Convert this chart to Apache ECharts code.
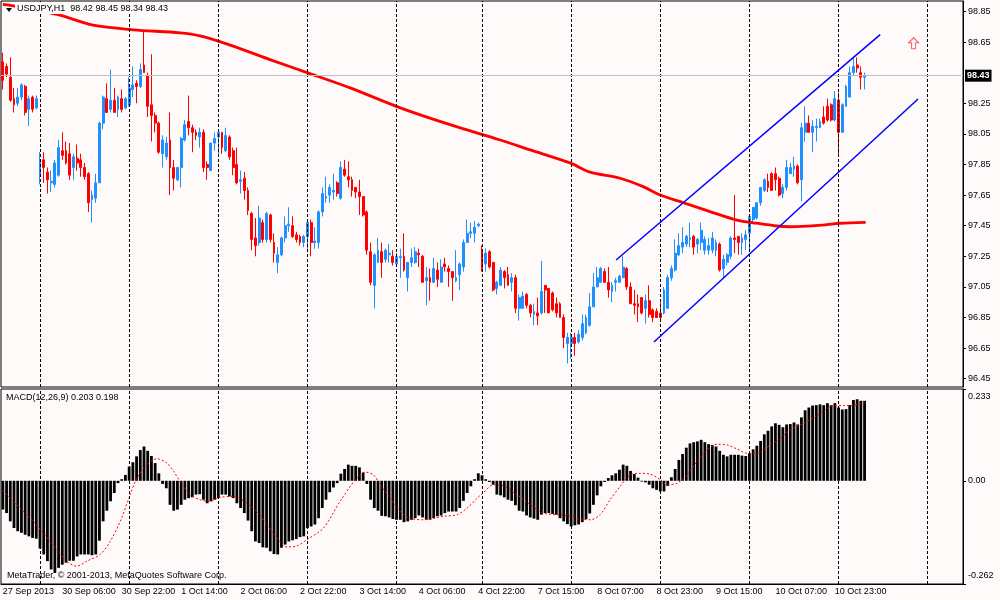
<!DOCTYPE html>
<html>
<head>
<meta charset="utf-8">
<title>USDJPY,H1</title>
<script src="https://cdn.jsdelivr.net/npm/echarts@6/dist/echarts.min.js"></script>
<style>
  html, body { margin: 0; padding: 0; background: #fffafa; }
  #chart { width: 1000px; height: 600px; }
</style>
</head>
<body>
<div id="chart"></div>
<script>
// USDJPY H1, 27 Sep 2013 14:00 .. 11 Oct 2013 07:00 (233 bars)
const symbol = 'USDJPY,H1'
const timeLabels = ['27 Sep 2013', '30 Sep 06:00', '30 Sep 22:00', '1 Oct 14:00', '2 Oct 06:00',
  '2 Oct 22:00', '3 Oct 14:00', '4 Oct 06:00', '4 Oct 22:00', '7 Oct 15:00', '8 Oct 07:00',
  '8 Oct 23:00', '9 Oct 15:00', '10 Oct 07:00', '10 Oct 23:00']
// bar index of each midnight (day separators)
const daySeparators = [10, 34, 58, 82, 106, 129, 153, 177, 201, 225, 249]
const priceTicks = [96.45, 96.65, 96.85, 97.05, 97.25, 97.45, 97.65, 97.85, 98.05, 98.25, 98.65, 98.85]
const macdTicks = [-0.262, 0, 0.233]
const bid = 98.43

// [open, close, low, high]
const ohlc = [
  // Fri 27 Sep 14:00 - 23:00
  [98.52,98.40,98.34,98.58],[98.49,98.44,98.42,98.51],[98.42,98.27,98.26,98.55],[98.28,98.24,98.19,98.35],
  [98.25,98.29,98.23,98.35],[98.29,98.37,98.27,98.38],[98.36,98.19,98.17,98.37],[98.21,98.28,98.10,98.30],
  [98.29,98.21,98.19,98.30],[98.22,98.28,98.21,98.30],
  // Mon 30 Sep
  [97.78,97.87,97.72,97.93],[97.88,97.83,97.73,97.93],[97.80,97.75,97.66,97.83],[97.73,97.74,97.67,97.81],
  [97.72,97.86,97.70,97.88],[97.78,97.96,97.77,98.01],[97.94,97.91,97.88,98.06],[97.94,97.86,97.85,98.00],
  [97.92,97.78,97.75,97.99],[97.83,97.90,97.75,97.92],[97.89,97.86,97.81,97.98],[97.88,97.83,97.77,97.92],
  [97.83,97.77,97.75,97.86],[97.79,97.60,97.54,97.80],[97.62,97.65,97.47,97.68],[97.63,97.73,97.60,97.79],
  [97.73,98.12,97.73,98.13],[98.12,98.29,98.08,98.30],[98.28,98.19,98.19,98.38],[98.21,98.27,98.19,98.47],
  [98.27,98.19,98.19,98.35],[98.21,98.29,98.16,98.30],[98.28,98.21,98.19,98.34],[98.22,98.28,98.21,98.29],
  // Tue 1 Oct
  [98.24,98.35,98.23,98.42],[98.34,98.37,98.29,98.49],[98.38,98.36,98.25,98.40],[98.36,98.47,98.35,98.51],
  [98.50,98.45,98.45,98.73],[98.43,98.23,98.16,98.45],[98.24,98.17,98.00,98.57],[98.17,98.12,98.06,98.19],
  [98.12,97.93,97.92,98.13],[97.92,98.01,97.83,98.04],[97.90,97.99,97.88,98.03],[98.01,97.83,97.65,98.19],
  [97.83,97.76,97.68,97.88],[97.75,97.83,97.74,97.83],[97.83,98.02,97.70,98.03],[98.01,98.11,98.00,98.14],
  [98.13,98.09,98.04,98.30],[98.09,98.06,97.93,98.11],[98.06,98.04,98.01,98.08],[98.03,98.06,97.96,98.09],
  [98.06,97.83,97.80,98.08],[97.85,97.83,97.75,97.87],[97.81,97.99,97.81,97.99],[97.99,98.02,97.94,98.06],
  // Wed 2 Oct
  [98.03,98.06,97.92,98.08],[98.06,97.96,97.92,98.06],[97.94,98.04,97.93,98.09],[98.03,97.90,97.88,98.04],
  [97.94,97.83,97.78,97.96],[97.85,97.73,97.72,97.96],[97.74,97.75,97.66,97.81],[97.76,97.68,97.62,97.80],
  [97.68,97.55,97.52,97.70],[97.53,97.36,97.29,97.54],[97.37,97.32,97.25,97.50],[97.34,97.50,97.32,97.58],
  [97.47,97.36,97.34,97.49],[97.36,97.53,97.34,97.54],[97.52,97.36,97.34,97.53],[97.34,97.27,97.21,97.40],
  [97.21,97.26,97.14,97.31],[97.26,97.37,97.25,97.38],[97.37,97.45,97.34,97.51],[97.45,97.46,97.41,97.57],
  [97.45,97.38,97.37,97.51],[97.39,97.36,97.34,97.41],[97.38,97.34,97.32,97.39],[97.34,97.38,97.31,97.39],
  // Thu 3 Oct
  [97.38,97.47,97.30,97.49],[97.47,97.34,97.25,97.49],[97.34,97.35,97.30,97.44],[97.34,97.54,97.30,97.55],
  [97.54,97.66,97.51,97.70],[97.63,97.64,97.60,97.77],[97.65,97.70,97.60,97.72],[97.67,97.68,97.62,97.79],
  [97.73,97.66,97.64,97.74],[97.63,97.83,97.62,97.87],[97.82,97.78,97.77,97.88],[97.77,97.75,97.70,97.87],
  [97.75,97.68,97.64,97.77],[97.70,97.67,97.63,97.70],[97.67,97.64,97.52,97.75],[97.64,97.52,97.51,97.64],
  [97.54,97.29,97.26,97.55],[97.28,97.08,97.06,97.34],[97.06,97.26,96.91,97.27],[97.21,97.29,97.21,97.37],
  [97.28,97.21,97.11,97.34],[97.23,97.29,97.21,97.30],[97.26,97.27,97.21,97.33],[97.25,97.21,97.19,97.29],
  // Fri 4 Oct
  [97.20,97.25,97.18,97.27],[97.24,97.25,97.11,97.30],[97.25,97.16,97.15,97.40],[97.11,97.21,97.02,97.21],
  [97.21,97.24,97.18,97.30],[97.21,97.28,97.20,97.31],[97.27,97.26,97.18,97.30],[97.25,97.08,97.08,97.26],
  [97.09,97.11,96.93,97.18],[97.11,97.08,96.96,97.17],[97.08,97.17,97.08,97.24],[97.16,97.10,97.05,97.21],
  [97.08,97.18,97.08,97.23],[97.20,97.18,97.15,97.24],[97.17,97.15,97.05,97.19],[97.15,97.11,96.96,97.15],
  [97.09,97.11,97.08,97.29],[97.13,97.20,97.03,97.21],[97.18,97.34,97.15,97.36],[97.34,97.40,97.34,97.49],
  [97.40,97.41,97.37,97.47],[97.40,97.44,97.34,97.48],[97.45,97.46,97.44,97.47],
  // Mon 7 Oct
  [97.28,97.17,97.15,97.32],[97.20,97.27,97.15,97.30],[97.28,97.18,97.17,97.29],[97.21,97.03,97.02,97.21],
  [97.04,97.08,97.00,97.09],[97.06,97.16,97.06,97.18],[97.15,97.11,97.04,97.16],[97.13,97.06,97.06,97.18],
  [97.08,97.11,97.02,97.14],[97.11,96.91,96.88,97.13],[96.91,96.98,96.83,97.00],[96.91,96.99,96.91,97.02],
  [97.00,96.93,96.91,97.01],[96.93,96.88,96.85,96.94],[96.87,96.89,96.80,96.94],[96.88,96.86,96.80,96.98],
  [96.88,97.02,96.87,97.22],[97.06,97.03,96.88,97.06],[97.04,96.88,96.88,97.04],[97.01,96.90,96.89,97.02],
  [96.94,96.88,96.85,96.98],[96.94,96.85,96.85,96.95],[96.85,96.72,96.65,96.87],[96.68,96.72,96.55,96.75],
  // Tue 8 Oct
  [96.68,96.72,96.58,96.75],[96.72,96.68,96.60,96.75],[96.69,96.74,96.68,96.77],[96.72,96.81,96.70,96.87],
  [96.75,96.85,96.74,96.87],[96.80,96.92,96.79,97.01],[96.92,97.05,96.92,97.14],[97.05,97.11,97.05,97.18],
  [97.08,97.17,97.08,97.18],[97.15,97.08,97.08,97.17],[97.08,97.03,96.98,97.18],[97.02,97.06,96.95,97.08],
  [97.08,97.09,97.02,97.11],[97.08,97.12,97.08,97.13],[97.11,97.18,97.11,97.25],[97.17,97.05,97.03,97.18],
  [97.05,96.94,96.94,97.08],[96.94,96.93,96.87,97.03],[96.94,96.92,96.82,97.00],[96.98,96.88,96.87,96.98],
  [96.91,96.96,96.81,97.00],[96.96,96.87,96.85,97.06],[96.90,96.85,96.82,96.91],[96.89,96.85,96.85,96.91],
  // Wed 9 Oct
  [96.88,96.85,96.82,96.95],[96.88,97.03,96.87,97.05],[96.91,97.11,96.91,97.13],[97.11,97.17,97.09,97.19],
  [97.16,97.27,97.15,97.36],[97.26,97.32,97.25,97.40],[97.31,97.34,97.27,97.44],[97.33,97.38,97.31,97.39],
  [97.36,97.37,97.31,97.47],[97.38,97.31,97.26,97.39],[97.33,97.36,97.27,97.37],[97.34,97.42,97.29,97.47],
  [97.29,97.36,97.26,97.38],[97.29,97.32,97.26,97.37],[97.29,97.37,97.27,97.41],[97.29,97.34,97.25,97.36],
  [97.33,97.16,97.15,97.34],[97.17,97.23,97.11,97.26],[97.21,97.26,97.19,97.27],[97.25,97.37,97.23,97.38],
  [97.37,97.36,97.27,97.65],[97.38,97.34,97.26,97.38],[97.34,97.37,97.26,97.40],[97.36,97.39,97.29,97.42],
  // Thu 10 Oct
  [97.40,97.51,97.29,97.52],[97.49,97.57,97.47,97.57],[97.50,97.60,97.49,97.60],[97.60,97.70,97.58,97.70],
  [97.68,97.75,97.67,97.76],[97.74,97.70,97.67,97.79],[97.79,97.68,97.68,97.80],[97.79,97.75,97.68,97.83],
  [97.76,97.65,97.64,97.77],[97.66,97.70,97.63,97.72],[97.70,97.83,97.68,97.88],[97.79,97.83,97.79,97.86],
  [97.82,97.84,97.77,97.90],[97.84,97.73,97.72,97.85],[97.75,98.09,97.61,98.12],[98.06,98.12,98.00,98.23],
  [98.12,98.06,98.06,98.17],[98.06,98.10,97.93,98.14],[98.09,98.10,98.00,98.15],[98.09,98.13,98.09,98.15],
  [98.16,98.12,98.11,98.23],[98.23,98.14,98.13,98.28],[98.24,98.14,98.13,98.25],[98.14,98.28,98.13,98.33],
  // Fri 11 Oct
  [98.27,98.06,97.91,98.32],[98.06,98.24,98.06,98.25],[98.23,98.36,98.23,98.37],[98.29,98.45,98.29,98.49],
  [98.45,98.49,98.43,98.55],[98.50,98.48,98.45,98.55],[98.45,98.42,98.34,98.49],[98.42,98.43,98.34,98.45]
]

// moving average, read as [bar, price]
const maPoints = [[0,98.895],[2,98.89],[14.6,98.83],[24.3,98.76],[35.1,98.73],[47.7,98.71],[53.1,98.69],
  [61.2,98.63],[72.5,98.53],[81.9,98.45],[93.5,98.35],[107,98.22],[120.4,98.11],[133.9,98.01],
  [142,97.945],[152.7,97.86],[158.1,97.80],[166.2,97.76],[172.4,97.705],[177,97.65],[183.2,97.60],
  [190.4,97.542],[197.6,97.487],[203,97.466],[208.4,97.448],[211.9,97.443],[220.9,97.454],
  [225.4,97.466],[232.3,97.472]]

// trend channel, [bar, price]
const upperChannel = [[165.1, 97.226], [236.2, 98.698]]
const lowerChannel = [[175.3, 96.690], [246.4, 98.278]]
const arrowMark = [[245.2, 98.642]]

// MACD(12,26,9) histogram, one value per bar
const macdHist = [
  -0.073,-0.082,-0.103,-0.120,-0.128,-0.132,-0.137,-0.141,-0.145,-0.147,
  -0.172,-0.187,-0.204,-0.225,-0.234,-0.221,-0.213,-0.208,-0.203,-0.203,
  -0.192,-0.187,-0.187,-0.187,-0.189,-0.187,-0.152,-0.103,-0.076,-0.052,
  -0.031,-0.006,0.004,0.015,0.036,0.047,0.062,0.078,0.087,0.076,
  0.063,0.045,0.019,-0.008,-0.019,-0.061,-0.076,-0.073,-0.061,-0.048,
  -0.044,-0.042,-0.035,-0.034,-0.048,-0.057,-0.052,-0.048,-0.044,-0.035,
  -0.035,-0.040,-0.044,-0.057,-0.069,-0.082,-0.101,-0.128,-0.154,-0.158,
  -0.169,-0.170,-0.179,-0.186,-0.187,-0.170,-0.162,-0.154,-0.151,-0.148,
  -0.143,-0.141,-0.120,-0.116,-0.111,-0.095,-0.069,-0.048,-0.029,-0.017,
  -0.006,0.018,0.030,0.041,0.038,0.038,0.034,0.021,-0.008,-0.048,
  -0.069,-0.076,-0.089,-0.090,-0.093,-0.097,-0.099,-0.099,-0.105,-0.103,
  -0.099,-0.095,-0.088,-0.093,-0.099,-0.099,-0.095,-0.090,-0.088,-0.082,
  -0.078,-0.078,-0.078,-0.069,-0.051,-0.031,-0.014,0.004,0.019,0.014,
  0.004,-0.003,-0.010,-0.035,-0.037,-0.042,-0.048,-0.051,-0.062,-0.076,
  -0.078,-0.088,-0.093,-0.096,-0.099,-0.086,-0.082,-0.082,-0.084,-0.086,
  -0.095,-0.103,-0.110,-0.116,-0.113,-0.111,-0.105,-0.097,-0.083,-0.061,
  -0.037,-0.014,-0.003,0.007,0.014,0.019,0.028,0.041,0.038,0.025,
  0.017,0.008,-0.002,-0.004,-0.010,-0.019,-0.023,-0.027,-0.027,-0.013,
  0.009,0.030,0.053,0.068,0.084,0.095,0.098,0.100,0.104,0.098,
  0.093,0.091,0.087,0.076,0.066,0.062,0.066,0.066,0.066,0.064,
  0.063,0.070,0.080,0.089,0.101,0.118,0.127,0.138,0.146,0.142,
  0.136,0.143,0.144,0.148,0.143,0.161,0.179,0.186,0.191,0.192,
  0.194,0.192,0.197,0.192,0.197,0.186,0.181,0.182,0.192,0.205,
  0.207,0.203,0.203
]

// MACD signal line, [bar, value]
const signalPoints = [[0,-0.025],[3.8,-0.061],[8.2,-0.103],[12.7,-0.154],[17.2,-0.204],[19.9,-0.217],
  [22.6,-0.204],[26.2,-0.187],[28.9,-0.154],[31.6,-0.103],[34.3,-0.035],[36.1,0.007],[38.8,0.041],
  [41.5,0.056],[44.2,0.045],[46,0.024],[47.7,-0.002],[50.4,-0.035],[53.1,-0.048],[55.8,-0.052],
  [58.5,-0.042],[62.1,-0.040],[65.7,-0.057],[68.4,-0.078],[71.1,-0.111],[73.8,-0.145],[76.5,-0.168],
  [79,-0.166],[81.9,-0.149],[86.3,-0.120],[90.8,-0.052],[95.3,0.007],[97.6,0.022],[99.8,0.015],
  [101.6,-0.010],[104.3,-0.044],[107,-0.078],[109.7,-0.095],[113.3,-0.099],[116,-0.095],[118.7,-0.090],
  [122.3,-0.086],[125,-0.069],[127.7,-0.044],[129.4,-0.030],[132.1,-0.010],[134.8,-0.013],
  [138.4,-0.035],[142,-0.061],[145.6,-0.082],[149.2,-0.086],[152.8,-0.090],[155.5,-0.097],
  [158.2,-0.099],[160.8,-0.086],[163.5,-0.048],[166.2,-0.014],[168.9,0.015],[171.6,0.019],
  [174.3,0.017],[177,0.003],[178.8,-0.010],[181.5,-0.006],[184.2,0.015],[186.9,0.049],[189.6,0.078],
  [192.3,0.093],[195,0.091],[197.6,0.081],[200.3,0.070],[203,0.070],[206.6,0.091],[209.3,0.108],
  [212,0.129],[214.7,0.142],[218.3,0.160],[220.9,0.176],[223.7,0.190],[226.4,0.191],[229.1,0.192],
  [232,0.198]]

// ---- layout ----
const slots = 259            // bar slots across the panel, incl. empty right margin
const priceMin = 96.396, priceMax = 98.918
const font = 'Liberation Sans'
const bg = '#fffafa'
const cats = Array.from({ length: slots }, (_, i) => i)
const labelAt = (i) => i % 16 === 0 && i / 16 < timeLabels.length

const last = ohlc[ohlc.length - 1]
const titleText = symbol + '  ' + [last[0], last[3], last[2], last[1]].map((v) => v.toFixed(2)).join(' ')
const macdText = 'MACD(12,26,9) ' + macdHist[macdHist.length - 1].toFixed(3) + ' ' +
  signalPoints[signalPoints.length - 1][1].toFixed(3)

const separatorLines = (xi, yi) => ({
  type: 'line', xAxisIndex: xi, yAxisIndex: yi, data: [], silent: true, z: 1,
  markLine: {
    silent: true, symbol: 'none', animation: false, label: { show: false },
    lineStyle: { color: '#000', width: 1, type: [3, 2] },
    data: daySeparators.map((b) => ({ xAxis: b }))
  }
})

var myChart = echarts.init(document.getElementById('chart'))
var option = {
  animation: false,
  backgroundColor: bg,
  textStyle: { fontFamily: font },
  grid: [
    { left: 1, top: 1, width: 962, height: 386, show: true, borderColor: '#000', borderWidth: 1, outerBoundsMode: 'none' },
    { left: 1, top: 389, width: 962, height: 195, show: true, borderColor: '#000', borderWidth: 1, outerBoundsMode: 'none' }
  ],
  xAxis: [
    { type: 'category', gridIndex: 0, data: cats, axisLine: { show: false, onZero: false },
      axisTick: { show: false }, axisLabel: { show: false }, splitLine: { show: false } },
    { type: 'category', gridIndex: 1, data: cats,
      axisLine: { onZero: false, lineStyle: { color: '#000', width: 1 } },
      axisTick: { alignWithLabel: true, interval: (i) => labelAt(i), length: 4, lineStyle: { color: '#000' } },
      axisLabel: { interval: (i) => labelAt(i), formatter: (v) => timeLabels[Number(v) / 16],
        align: 'left', margin: 3, color: '#000', fontSize: 9, fontFamily: font },
      splitLine: { show: false } },
    { type: 'value', gridIndex: 0, min: -0.5, max: slots - 0.5, show: false, axisLine: { onZero: false } },
    { type: 'value', gridIndex: 1, min: -0.5, max: slots - 0.5, show: false, axisLine: { onZero: false } }
  ],
  yAxis: [
    { type: 'value', gridIndex: 0, position: 'right', min: priceMin, max: priceMax,
      splitLine: { show: false },
      axisLine: { show: true, onZero: false, lineStyle: { color: '#000' } },
      axisTick: { show: true, length: 3, customValues: priceTicks, lineStyle: { color: '#000' } },
      axisLabel: { customValues: priceTicks, formatter: (v) => v.toFixed(2), margin: 5,
        color: '#000', fontSize: 9, fontFamily: font } },
    { type: 'value', gridIndex: 1, position: 'right', min: macdTicks[0], max: macdTicks[2],
      splitLine: { show: false },
      axisLine: { show: true, onZero: false, lineStyle: { color: '#000' } },
      axisTick: { show: true, length: 3, customValues: macdTicks, lineStyle: { color: '#000' } },
      axisLabel: {
        customValues: macdTicks, margin: 5, color: '#000', fontSize: 9, fontFamily: font,
        formatter: (v) => {
          if (Math.abs(v) < 1e-9) return '0.00'
          if (v > 0) return '{top|' + v.toFixed(3) + '}'
          return '{bot|' + v.toFixed(3) + '}'
        },
        rich: {
          top: { padding: [16, 0, 0, 0], fontSize: 9, color: '#000', fontFamily: font },
          bot: { padding: [0, 0, 16, 0], fontSize: 9, color: '#000', fontFamily: font }
        }
      } }
  ],
  graphic: [
    { type: 'polygon', shape: { points: [[6, 8], [12, 8], [9, 12]] }, style: { fill: '#000' }, z: 100 },
    { type: 'text', left: 15, top: 3, z: 100,
      style: { text: titleText, font: '9px "Liberation Sans"', fill: '#000', backgroundColor: bg, padding: [1, 2] } },
    { type: 'text', left: 6, top: 393, z: 100,
      style: { text: macdText, font: '9px "Liberation Sans"', fill: '#000' } },
    { type: 'text', left: 7, top: 571, z: 100,
      style: { text: 'MetaTrader, © 2001-2013, MetaQuotes Software Corp.', font: '9px "Liberation Sans"', fill: '#000' } }
  ],
  series: [
    separatorLines(2, 0),
    separatorLines(3, 1),
    {
      type: 'candlestick', xAxisIndex: 0, yAxisIndex: 0, data: ohlc, barWidth: 2.4, z: 3,
      itemStyle: { color: '#1e90ff', color0: '#ff0000', borderColor: '#1e90ff', borderColor0: '#ff0000', borderWidth: 1 },
      markLine: {
        silent: true, symbol: 'none', animation: false,
        lineStyle: { color: '#c0c0c0', width: 1, type: 'solid' },
        label: { position: 'end', formatter: bid.toFixed(2), distance: 2, backgroundColor: '#000',
          color: '#fff', fontSize: 9, fontWeight: 'bold', fontFamily: font, padding: [1, 2], lineHeight: 10 },
        data: [{ yAxis: bid }]
      }
    },
    { type: 'line', xAxisIndex: 2, yAxisIndex: 0, data: maPoints, smooth: 0.3, showSymbol: false, z: 4,
      lineStyle: { color: '#ff0000', width: 2.8 } },
    { type: 'line', xAxisIndex: 2, yAxisIndex: 0, data: upperChannel, showSymbol: false, z: 5,
      lineStyle: { color: '#0000ff', width: 1.5 } },
    { type: 'line', xAxisIndex: 2, yAxisIndex: 0, data: lowerChannel, showSymbol: false, z: 5,
      lineStyle: { color: '#0000ff', width: 1.5 } },
    { type: 'scatter', xAxisIndex: 2, yAxisIndex: 0, data: arrowMark, z: 5,
      symbol: 'path://M5,0 L10,5 L7,5 L7,11 L3,11 L3,5 L0,5 Z', symbolSize: [10, 11],
      itemStyle: { color: 'rgba(255,255,255,0)', borderColor: '#ff3030', borderWidth: 1 } },
    { type: 'bar', xAxisIndex: 1, yAxisIndex: 1, data: macdHist, barWidth: 2.8, z: 3,
      itemStyle: { color: '#000' } },
    { type: 'line', xAxisIndex: 3, yAxisIndex: 1, data: signalPoints, smooth: 0.3, showSymbol: false, z: 4,
      lineStyle: { color: '#ff0000', width: 1, type: [2, 2] } }
  ]
}
myChart.setOption(option)
</script>
</body>
</html>
